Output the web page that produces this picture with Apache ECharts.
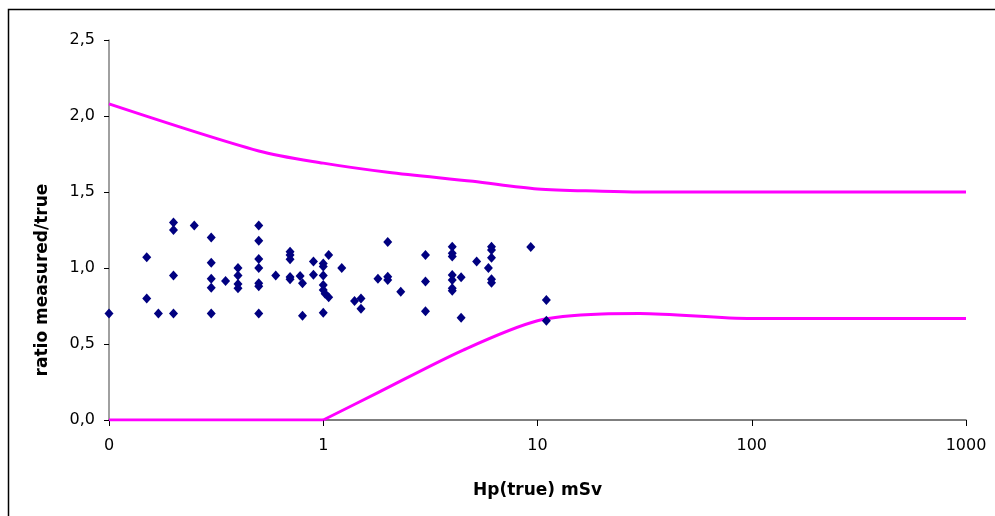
<!DOCTYPE html>
<html>
<head>
<meta charset="utf-8">
<script src="https://cdn.jsdelivr.net/npm/echarts@6/dist/echarts.min.js"></script>
<style>
  html, body { margin: 0; padding: 0; background: #fff; }
  #chart { width: 995px; height: 516px; }
</style>
</head>
<body>
<div id="chart"></div>
<script>
// trumpet limits
const upperX = [0.1, 0.5, 1, 2, 5, 10, 20, 30, 100, 1000];
const upperY = [2.08, 1.77, 1.69, 1.63, 1.57, 1.52, 1.505, 1.5, 1.5, 1.5];

const lowerX = [0.1, 1, 1.8, 4.5, 10, 20, 30, 100, 1000];
const lowerY = [0, 0, 0.18, 0.46, 0.653, 0.697, 0.70, 0.667, 0.667];

// measured points: Hp(true) and ratio measured/true
const doseX = [
    0.1, 0.15, 0.15, 0.17, 0.2, 0.2, 0.2, 0.2, 0.25,
    0.3, 0.3, 0.3, 0.3, 0.3, 0.35,
    0.4, 0.4, 0.4, 0.4,
    0.5, 0.5, 0.5, 0.5, 0.5, 0.5, 0.5,
    0.6, 0.7, 0.7, 0.7, 0.7, 0.7, 0.78, 0.8, 0.8, 0.9, 0.9,
    1.0, 1.0, 1.0, 1.0, 1.0, 1.02, 1.06, 1.06, 1.0,
    1.22, 1.4, 1.5, 1.5, 1.8, 2.0, 2.0, 2.0, 2.3,
    3.0, 3.0, 3.0,
    4.0, 4.0, 4.0, 4.0, 4.0, 4.0, 4.0, 4.4, 4.4,
    5.2, 5.9, 6.1, 6.1, 6.1, 6.1, 6.1,
    9.3, 11, 11
];
const ratioY = [
    0.70, 1.07, 0.80, 0.70, 1.30, 1.25, 0.95, 0.70, 1.28,
    1.20, 1.035, 0.93, 0.87, 0.70, 0.915,
    1.00, 0.95, 0.895, 0.866,
    1.28, 1.18, 1.06, 1.00, 0.90, 0.88, 0.70,
    0.95, 1.107, 1.085, 1.057, 0.94, 0.926, 0.947, 0.90, 0.686, 1.042, 0.956,
    1.03, 1.01, 0.95, 0.888, 0.855, 0.83, 1.085, 0.807, 0.705,
    1.00, 0.783, 0.80, 0.732, 0.93, 1.171, 0.943, 0.921, 0.844,
    1.085, 0.912, 0.715,
    1.14, 1.097, 1.075, 0.954, 0.921, 0.866, 0.851, 0.939, 0.673,
    1.042, 1.00, 1.14, 1.118, 1.068, 0.926, 0.903,
    1.138, 0.79, 0.653
];

const xTicks = [0.1, 1, 10, 100, 1000];

const zip = (xs, ys) => xs.map((x, i) => [x, ys[i]]);
const lowerPts = zip(lowerX, lowerY);

const limitStyle = { color: "#ff00ff", width: 3 };

const chart = echarts.init(document.getElementById("chart"));

chart.setOption({
    backgroundColor: "#fff",
    animation: false,

    graphic: [
        {
            type: "rect",
            shape: { x: 8.5, y: 9.5, width: 1000, height: 520 },
            style: { fill: null, stroke: "#000", lineWidth: 1.5 },
            silent: true
        }
    ],

    grid: {
        left: 109,
        right: 29,
        top: 40,
        bottom: 96,
        outerBoundsMode: "none"
    },

    xAxis: {
        type: "log",
        logBase: 10,
        min: 0.1,
        max: 1000,
        name: "Hp(true) mSv",
        nameLocation: "middle",
        nameGap: 62,
        nameTextStyle: {
            fontFamily: "DejaVu Sans",
            fontWeight: "bold",
            fontSize: 17,
            color: "#000"
        },
        axisLine: { onZero: false, lineStyle: { color: "#555", width: 1.5 } },
        axisTick: { show: true, length: 6, lineStyle: { color: "#000" } },
        minorTick: { show: false },
        splitLine: { show: false },
        axisLabel: {
            margin: 18,
            fontFamily: "DejaVu Sans",
            fontSize: 16,
            color: "#000",
            showMinLabel: true,
            showMaxLabel: true,
            formatter: v => {
                const t = xTicks.find(k => Math.abs(Math.log10(k) - Math.log10(v)) < 0.01);
                if (t === undefined) return "";
                return t < 1 ? "0" : String(t);
            }
        }
    },

    yAxis: {
        type: "value",
        min: 0,
        max: 2.5,
        interval: 0.5,
        name: "ratio measured/true",
        nameLocation: "middle",
        nameGap: 58,
        nameTextStyle: {
            fontFamily: "DejaVu Sans",
            fontWeight: "bold",
            fontSize: 17,
            color: "#000",
            padding: [0, 100, 0, 0]
        },
        axisLine: { show: true, lineStyle: { color: "#808080", width: 1.5 } },
        axisTick: { show: true, length: 5, lineStyle: { color: "#000" } },
        splitLine: { show: false },
        axisLabel: {
            margin: 14,
            fontFamily: "DejaVu Sans",
            fontSize: 16,
            color: "#000",
            formatter: v => v.toFixed(1).replace(".", ",")
        }
    },

    series: [
        {
            name: "upper",
            type: "line",
            data: zip(upperX, upperY),
            showSymbol: false,
            smooth: 0.3,
            lineStyle: limitStyle,
            z: 2
        },
        {
            // flat part of the lower limit, up to 1 mSv
            name: "lower",
            type: "line",
            data: lowerPts.slice(0, 2),
            showSymbol: false,
            lineStyle: limitStyle,
            z: 2
        },
        {
            name: "lower",
            type: "line",
            data: lowerPts.slice(1),
            showSymbol: false,
            smooth: 0.3,
            lineStyle: limitStyle,
            z: 2
        },
        {
            name: "measured",
            type: "scatter",
            data: zip(doseX, ratioY),
            symbol: "diamond",
            symbolSize: [9, 10],
            itemStyle: { color: "#000080", opacity: 1 },
            z: 5
        }
    ]
});
</script>
</body>
</html>
